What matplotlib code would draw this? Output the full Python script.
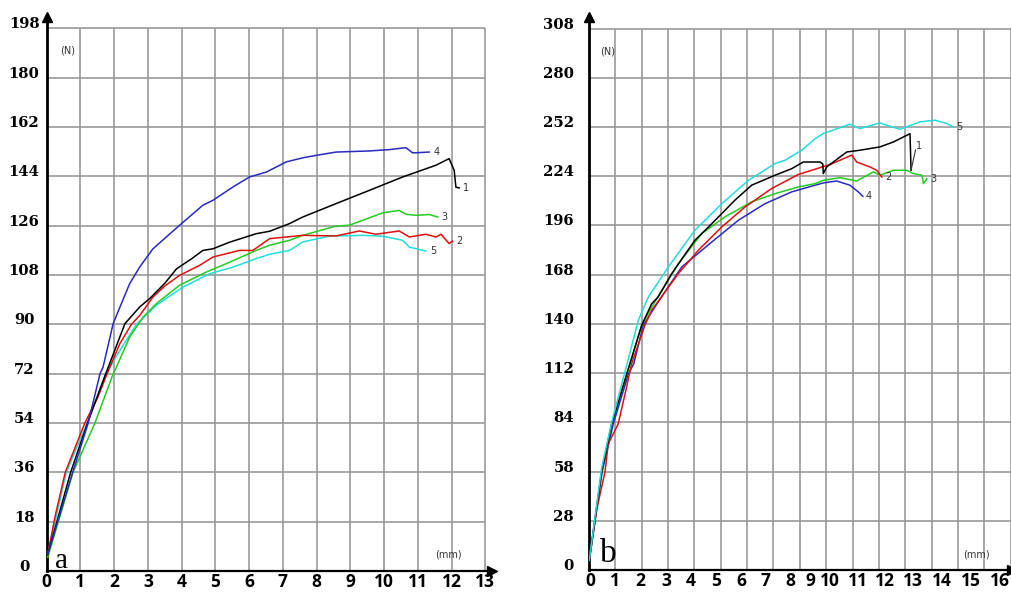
import matplotlib
matplotlib.use('Agg')
import matplotlib.pyplot as plt

# ---- panel a : force (N) vs displacement (mm) ----
a_yticks = [0, 18, 36, 54, 72, 90, 108, 126, 144, 162, 180, 198]
a_xticks = list(range(0, 14))

a1_x = [0.03, 0.71, 1.21, 1.75, 2.0, 2.32, 2.76, 3.05, 3.5, 3.85, 4.3, 4.63, 4.93, 5.42, 6.21, 6.61,
        7.2, 7.59, 8.58, 9.56, 10.55, 11.54, 11.93, 12.08, 12.13, 12.23]
a1_y = [6, 36, 54, 72, 80, 90.3, 96.4, 99.4, 105, 110.3, 114, 117, 117.6, 120, 123.1, 124,
        126.8, 129.2, 134.1, 138.9, 143.8, 148.1, 150.5, 146.2, 140.1, 139.8]
a2_x = [0.03, 0.25, 0.55, 1.13, 1.5, 1.79, 2.17, 2.51, 2.76, 3.15, 3.5, 3.94, 4.54, 4.93, 5.72, 6.11,
        6.61, 7.1, 7.59, 8.58, 9.27, 9.76, 10.45, 10.75, 11.24, 11.54, 11.69, 11.93, 12.03]
a2_y = [6, 20, 36, 54, 63, 72, 83, 90, 93.3, 100, 104, 107.9, 111.6, 114.6, 117, 117,
        121.3, 121.9, 122.5, 122.3, 124.1, 122.9, 124.1, 121.9, 122.9, 121.9, 122.9, 119.5, 120.4]
a3_x = [0.03, 0.78, 1.43, 1.97, 2.07, 2.46, 2.86, 3.25, 3.94, 4.73, 5.33, 6.21, 6.61, 7.2, 7.59,
        8.58, 8.97, 9.96, 10.45, 10.65, 10.95, 11.34, 11.59]
a3_y = [5, 36, 54, 72, 74.5, 85.4, 92.7, 97.6, 104.3, 109.1, 112.2, 117, 118.9, 120.7, 122.5,
        125.9, 126.2, 130.7, 131.6, 130.2, 129.8, 130.1, 129.2]
a4_x = [0.03, 0.77, 1.23, 1.58, 1.67, 1.97, 2.46, 2.76, 3.15, 3.94, 4.63, 4.93, 5.5, 6.01, 6.51,
        7.1, 7.59, 7.99, 8.58, 9.56, 10.16, 10.65, 10.85, 11.34]
a4_y = [6, 36, 54, 72, 74.4, 90.3, 104.9, 111, 117.6, 126.2, 133.5, 135.3, 140, 143.8, 145.6,
        149.3, 150.8, 151.7, 152.9, 153.3, 153.8, 154.5, 152.6, 152.9]
a5_x = [0.03, 0.58, 1.2, 1.75, 2.17, 2.66, 3.25, 4.04, 4.83, 5.52, 6.21, 6.61, 7.2, 7.59, 8.38,
        9.37, 9.96, 10.55, 10.75, 11.24]
a5_y = [6, 36, 54, 72, 80.5, 90, 97, 103.6, 108.5, 110.9, 114, 115.6, 117, 120.1, 122.2,
        122.5, 122.2, 120.7, 118.2, 116.8]

# ---- panel b ----
b_yticks = [0, 28, 56, 84, 112, 140, 168, 196, 224, 252, 280, 308]
b_ylabels = ['0', '28', '58', '84', '112', '140', '168', '196', '224', '252', '280', '308']
b_xlabels = [str(i) for i in range(17)]

b1_x = [0.01, 0.48, 0.86, 1.43, 2.0, 2.38, 2.62, 3.14, 4.02, 4.66, 5.54, 6.17, 7.06, 7.69, 8.13,
        8.58, 8.77, 8.87, 8.89, 9.02, 9.78, 10.28, 11.04, 11.55, 12.18, 12.22]
b1_y = [5.5, 56, 83, 111.3, 139.2, 151.5, 155.3, 168.6, 187.6, 197, 210.4, 218.9, 224.6, 228.3, 232.1,
        232.1, 232.1, 231, 225.5, 229.3, 237.8, 238.8, 240.7, 243.5, 248.2, 227.4]
b2_x = [0.01, 0.3, 0.61, 0.73, 0.99, 1.11, 1.37, 1.62, 2.12, 2.38, 3.39, 4.15, 5.04, 5.92, 6.93,
        7.94, 8.58, 9.2, 9.97, 10.16, 10.66, 10.92, 11.11]
b2_y = [5.5, 35, 56, 71.9, 79.5, 83.2, 100.3, 117.4, 139.2, 147.8, 168.6, 181.9, 195.2, 206.5, 217,
        225, 228, 231, 236, 232.1, 229.3, 227.4, 223.6]
b3_x = [0.01, 0.48, 0.86, 1.43, 2.0, 2.38, 3.39, 4.28, 5.16, 6.17, 7.06, 7.94, 8.58, 8.89, 9.53,
        10.16, 10.79, 11.04, 11.55, 12.06, 12.31, 12.63, 12.69, 12.82]
b3_y = [5.5, 56, 83, 111.3, 139.2, 149.6, 174.3, 191.4, 200.9, 209.4, 214.1, 217.9, 219.8, 221.7, 223.2,
        221.3, 226.5, 224.6, 227.4, 227.4, 225.5, 224.6, 219.8, 222.6]
b4_x = [0.01, 0.5, 0.92, 1.49, 1.7, 2.06, 2.5, 2.75, 3.52, 4.66, 5.67, 6.68, 7.69, 8.58, 8.89,
        9.4, 9.9, 10.22, 10.39]
b4_y = [5.5, 56, 83, 111.3, 117.4, 139.2, 149.6, 155.3, 172.4, 186.6, 199, 208.4, 215.1, 218.9, 220.2,
        221.3, 218.9, 215.1, 212.6]
b5_x = [0.01, 0.48, 0.86, 1.37, 1.87, 2.25, 3.01, 4.02, 5.04, 6.05, 7.06, 7.44, 8.07, 8.58, 8.89,
        9.9, 10.28, 11.04, 11.8, 12.56, 13.13, 13.58, 13.83]
b5_y = [5.5, 58, 84, 113, 142, 155.3, 172.4, 193.3, 208.4, 221.7, 231.2, 233.1, 238.8, 245.4, 248.3,
        253.6, 251.1, 254.3, 250.7, 254.9, 255.9, 254, 252]

colors = {'1': 'black', '2': '#e01010', '3': '#22cc22', '4': '#2a2ac0', '5': '#22dddd'}
grid_color = '#9a9a9a'

fig = plt.figure(figsize=(10.12, 5.97), dpi=100)
ax_a = fig.add_axes([0.04615, 0.04355, 0.44, 0.928])
ax_b = fig.add_axes([0.5820, 0.04523, 0.418, 0.9263])


def setup_axis(ax, xmax, ymax, xgrid, ygrid):
    ax.set_xlim(0, xmax)
    ax.set_ylim(0, ymax)
    ax.vlines(xgrid[1:], 0, ygrid[-1], color=grid_color, lw=1.2, zorder=1)
    ax.hlines(ygrid[1:], 0, xgrid[-1], color=grid_color, lw=1.2, zorder=1)
    for s in ['top', 'right']:
        ax.spines[s].set_visible(False)
    ax.spines['left'].set_linewidth(2.0)
    ax.spines['bottom'].set_linewidth(1.6)
    ax.plot(0, 1, '^k', markersize=7.5, transform=ax.get_xaxis_transform(), clip_on=False)
    ax.plot(1, 0, '>k', markersize=7, transform=ax.get_yaxis_transform(), clip_on=False)
    ax.tick_params(length=0)


# panel a
setup_axis(ax_a, 13.2, 202.2, a_xticks, a_yticks)
ax_a.set_yticks(a_yticks, [str(v) for v in a_yticks], fontfamily='DejaVu Serif',
                fontweight='bold', fontsize=10.6, va='baseline', ha='center')
ax_a.tick_params(axis='y', pad=16.3)
ax_a.set_xticks(a_xticks, [str(v) for v in a_xticks], fontfamily='Open Sans',
                fontweight='bold', fontsize=12.5)
ax_a.tick_params(axis='x', pad=1.2)

for name, xs, ys in [('5', a5_x, a5_y), ('3', a3_x, a3_y), ('2', a2_x, a2_y),
                     ('1', a1_x, a1_y), ('4', a4_x, a4_y)]:
    ax_a.plot(xs, ys, color=colors[name], lw=1.1, zorder=3)
    ax_a.text(xs[-1] + 0.12, ys[-1], name, fontsize=7, color='#333333', va='center')

ax_a.text(0.63, 190, '(N)', fontsize=7, color='#333333', ha='center', va='center')
ax_a.text(11.9, 6.2, '(mm)', fontsize=7, color='#333333', ha='center', va='center')
ax_a.text(0.45, 1.0, 'a', fontsize=21, fontfamily='Liberation Serif', ha='center', va='baseline')

# panel b
setup_axis(ax_b, 16.05, 314.6, list(range(0, 17)), b_yticks)
ax_b.set_yticks(b_yticks, b_ylabels, fontfamily='DejaVu Serif',
                fontweight='bold', fontsize=10.6, va='baseline', ha='right')
ax_b.tick_params(axis='y', pad=10.8)
# the printed x labels drift off the grid in the original figure
b_xtick_pos = [0.04, 0.99, 1.94, 2.92, 3.87, 4.81, 5.77, 6.71, 7.63, 8.41, 9.15, 10.2,
               11.23, 12.3, 13.4, 14.5, 15.6]
ax_b.set_xticks(b_xtick_pos, b_xlabels, fontfamily='Open Sans',
                fontweight='bold', fontsize=12.5)
ax_b.tick_params(axis='x', pad=1.2)

for name, xs, ys in [('4', b4_x, b4_y), ('3', b3_x, b3_y), ('2', b2_x, b2_y),
                     ('1', b1_x, b1_y), ('5', b5_x, b5_y)]:
    ax_b.plot(xs, ys, color=colors[name], lw=1.1, zorder=3)
    if name != '1':
        ax_b.text(xs[-1] + 0.12, ys[-1], name, fontsize=7, color='#333333', va='center')

ax_b.plot([b1_x[-1], b1_x[-1] + 0.17], [b1_y[-1], 239], color='#333333', lw=0.8, zorder=3)
ax_b.text(b1_x[-1] + 0.2, 241, '1', fontsize=7, color='#333333', va='center')

ax_b.text(0.72, 294.7, '(N)', fontsize=7, color='#333333', ha='center', va='center')
ax_b.text(14.69, 9.1, '(mm)', fontsize=7, color='#333333', ha='center', va='center')
ax_b.text(0.72, 4.6, 'b', fontsize=24, fontfamily='Liberation Serif', ha='center', va='baseline')

plt.savefig('out.png', dpi=100)
